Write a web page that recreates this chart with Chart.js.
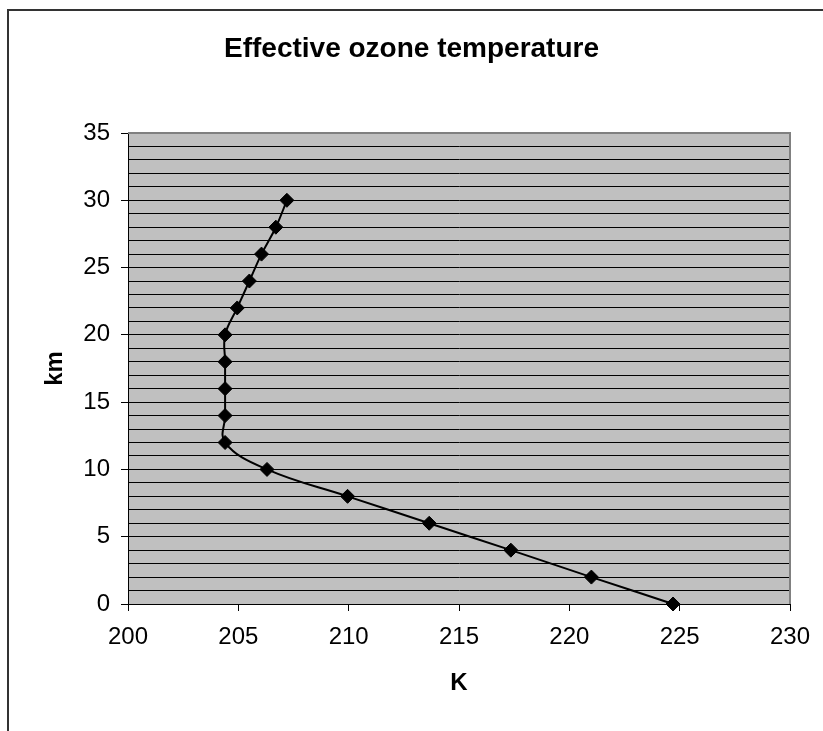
<!DOCTYPE html>
<html>
<head>
<meta charset="utf-8">
<script src="https://cdn.jsdelivr.net/npm/chart.js@4/dist/chart.umd.min.js"></script>
<style>
  html, body { margin: 0; padding: 0; background: #fff; }
  #wrap { width: 823px; height: 731px; position: relative; }
</style>
</head>
<body>
<div id="wrap"><canvas id="c" width="823" height="731"></canvas></div>
<script>
// Data
const altitudeKm = [0, 2, 4, 6, 8, 10, 12, 14, 16, 18, 20, 22, 24, 26, 28, 30];
const temperatureK = [224.7, 221.0, 217.35, 213.65, 209.95, 206.3, 204.4, 204.4, 204.4, 204.4, 204.4, 204.95, 205.5, 206.05, 206.7, 207.2];
const xTicks = [200, 205, 210, 215, 220, 225, 230];
const yTicks = [0, 5, 10, 15, 20, 25, 30, 35];

const points = altitudeKm.map((km, i) => ({ x: temperatureK[i], y: km }));

const FONT = "'Liberation Sans', Arial, sans-serif";

const framePlugin = {
  id: 'frame',
  beforeDraw(chart) {
    const ctx = chart.ctx;
    const a = chart.chartArea;
    ctx.save();
    ctx.fillStyle = '#ffffff';
    ctx.fillRect(0, 0, chart.width, chart.height);
    ctx.strokeStyle = '#333333';
    ctx.lineWidth = 2;
    ctx.strokeRect(8, 10, 900, 900);
    ctx.fillStyle = '#c0c0c0';
    ctx.fillRect(a.left, a.top, a.right - a.left, a.bottom - a.top);
    ctx.restore();
  },
  beforeDatasetsDraw(chart) {
    const ctx = chart.ctx;
    const a = chart.chartArea;
    ctx.save();
    ctx.strokeStyle = '#808080';
    ctx.lineWidth = 2;
    ctx.beginPath();
    ctx.moveTo(a.left, a.top);
    ctx.lineTo(a.right, a.top);
    ctx.lineTo(a.right, a.bottom);
    ctx.stroke();
    ctx.restore();
  }
};

new Chart(document.getElementById('c'), {
  type: 'scatter',
  data: {
    datasets: [{
      data: points,
      showLine: true,
      borderColor: '#000000',
      borderWidth: 2,
      tension: 0.4,
      pointStyle: 'rectRot',
      pointRadius: 7,
      pointHoverRadius: 7,
      pointBackgroundColor: '#000000',
      pointBorderColor: '#000000',
      pointBorderWidth: 1,
      clip: false
    }]
  },
  options: {
    responsive: false,
    animation: false,
    devicePixelRatio: 1,
    layout: { padding: { top: 0, right: 0, bottom: 0, left: 0 } },
    plugins: {
      legend: { display: false },
      tooltip: { enabled: false },
      title: {
        display: true,
        text: 'Effective ozone temperature',
        color: '#000',
        font: { family: FONT, size: 28, weight: 'bold' },
        padding: { top: 32, bottom: 67.4 }
      }
    },
    scales: {
      x: {
        type: 'linear',
        min: 200,
        max: 230,
        afterBuildTicks: s => { s.ticks = xTicks.map(v => ({ value: v })); },
        afterFit: s => { s.height = 127; s.paddingRight = 0; },
        ticks: {
          color: '#000',
          font: { family: FONT, size: 24 },
          padding: 12,
          maxRotation: 0
        },
        grid: {
          drawOnChartArea: false,
          drawTicks: true,
          tickLength: 7,
          tickColor: '#000',
          tickWidth: 1
        },
        border: { display: true, color: '#000', width: 1 },
        title: {
          display: true,
          text: 'K',
          color: '#000',
          font: { family: FONT, size: 24, weight: 'bold' },
          padding: { top: 0, bottom: 33 }
        }
      },
      y: {
        type: 'linear',
        min: 0,
        max: 35,
        ticks: {
          stepSize: 1,
          autoSkip: false,
          color: '#000',
          font: { family: FONT, size: 24 },
          padding: 11,
          callback: v => (yTicks.includes(v) ? String(v) : '')
        },
        afterFit: s => { s.width = 128; },
        grid: {
          drawOnChartArea: true,
          color: ctx => (ctx.tick && ctx.tick.value === 35 ? 'rgba(0,0,0,0)' : '#000000'),
          lineWidth: 1,
          drawTicks: true,
          tickLength: 7,
          tickColor: ctx => (ctx.tick && yTicks.includes(ctx.tick.value) ? '#000000' : 'rgba(0,0,0,0)'),
          tickWidth: 1
        },
        border: { display: true, color: '#000', width: 1 },
        title: {
          display: true,
          text: 'km',
          color: '#000',
          font: { family: FONT, size: 24, weight: 'bold' },
          padding: { top: 41, bottom: 0 }
        }
      },
      yRight: {
        type: 'linear',
        position: 'right',
        min: 0,
        max: 35,
        display: true,
        afterFit: s => { s.width = 33; },
        ticks: { display: false },
        grid: { display: false, drawTicks: false },
        border: { display: false },
        title: { display: false }
      }
    }
  },
  plugins: [framePlugin]
});
</script>
</body>
</html>
